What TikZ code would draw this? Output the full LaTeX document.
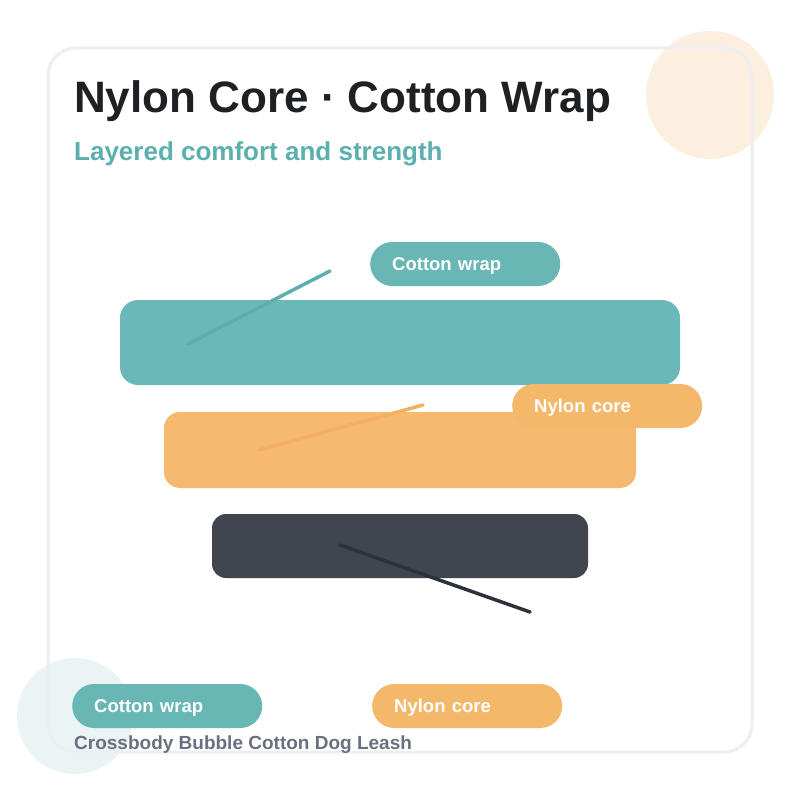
\documentclass[tikz,border=0pt]{standalone}
\usepackage{fontspec}
\setmainfont{Liberation Sans}
\usetikzlibrary{positioning}
\definecolor{wrapTeal}{RGB}{107, 184, 184}
\definecolor{pillTeal}{RGB}{104, 183, 181}
\definecolor{leadTeal}{RGB}{91, 176, 173}
\definecolor{coreOrange}{RGB}{245, 186, 112}
\definecolor{pillOrange}{RGB}{244, 184, 106}
\definecolor{leadOrange}{RGB}{242, 176, 96}
\definecolor{strapDark}{RGB}{65, 69, 80}
\definecolor{leadDark}{RGB}{45, 49, 59}
\definecolor{panelLine}{RGB}{236, 238, 243}
\definecolor{peachDot}{RGB}{253, 239, 223}
\definecolor{mintDot}{RGB}{234, 244, 245}
\definecolor{titleInk}{RGB}{31, 32, 35}
\definecolor{footInk}{RGB}{107, 112, 128}

\begin{document}
\begin{tikzpicture}[
        x=1pt,
        y=-1pt,
        bar/.style={inner sep=0pt, draw=none},
        pill/.style={rounded corners=22pt, minimum height=44pt, text width=146pt, text height=13.2pt, text depth=0pt, inner xsep=22pt, inner ysep=0pt, align=left, anchor=west, text=white, font=\bfseries\fontsize{18.5}{20}\selectfont},
        leader/.style={line width=3.5pt, line cap=round},
        heading/.style={inner sep=0pt, anchor=base west, font=\bfseries}
    ]
        \useasboundingbox (0,0) rectangle (800,800);
        \fill[white] (0,0) rectangle (800,800);

        % soft dots behind the card
        \fill[peachDot] (710,95) circle (64);
        \fill[mintDot] (75,716) circle (58);
        \draw[panelLine, line width=3pt, rounded corners=28pt] (48,48) rectangle (752,752);

        \node[heading, text=titleInk, font=\bfseries\fontsize{44}{48}\selectfont] (title) at (74,112) {Nylon Core · Cotton Wrap};
        \node[heading, text=leadTeal, font=\bfseries\fontsize{26}{30}\selectfont] (subtitle) at (74,160) {Layered comfort and strength};

        % the three layers
        \node[bar, fill=wrapTeal, rounded corners=18pt, minimum width=560pt, minimum height=85pt] (wrapBar) at (400,342.5) {};
        \node[bar, fill=coreOrange, rounded corners=16pt, minimum width=472pt, minimum height=76pt] (coreBar) at (400,450) {};
        \node[bar, fill=strapDark, rounded corners=14pt, minimum width=376pt, minimum height=64pt] (strapBar) at (400,546) {};

        \coordinate (wrapFoot) at (188,344);
        \coordinate (wrapHead) at (330,271);
        \coordinate (coreFoot) at (259,450);
        \coordinate (coreHead) at (423,405);
        \coordinate (strapFoot) at (340,545);
        \coordinate (strapHead) at (530,612);
        \draw[leader, draw=leadTeal] (wrapFoot) -- (wrapHead);
        \draw[leader, draw=leadOrange] (coreFoot) -- (coreHead);
        \draw[leader, draw=leadDark] (strapFoot) -- (strapHead);

        \node[pill, fill=pillTeal] (wrapTag) at (370,264) {Cotton wrap};
        \node[pill, fill=pillOrange] (coreTag) at (512,406) {Nylon core};

        % legend
        \node[pill, fill=pillTeal] (wrapKey) at (72,706) {Cotton wrap};
        \node[pill, fill=pillOrange] (coreKey) at (372,706) {Nylon core};
        \node[heading, text=footInk, font=\bfseries\fontsize{19}{22}\selectfont] (footer) at (74,749) {Crossbody Bubble Cotton Dog Leash};
    \end{tikzpicture}
\end{document}
